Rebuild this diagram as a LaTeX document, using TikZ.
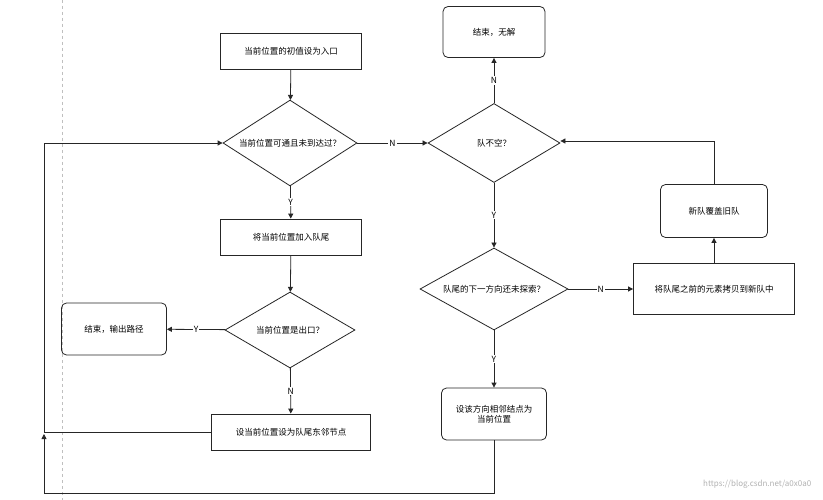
\documentclass[tikz,border=0pt]{standalone}
\usepackage{fontspec}
\setmainfont{Noto Sans CJK SC}
\usetikzlibrary{shapes.geometric,arrows.meta}
\begin{document}
\begin{tikzpicture}[x=1pt,y=-1pt,
 font=\fontsize{8.5}{10}\selectfont,
 line width=0.8pt, draw=black!85,
 box/.style={draw=black!85,minimum width=141pt,minimum height=36pt,inner sep=0pt},
 rbox/.style={draw=black!85,rounded corners=5pt,minimum width=104pt,minimum height=52pt,inner sep=0pt,align=center},
 dia/.style={draw=black!85,diamond,inner sep=0pt},
 arr/.style={-{Triangle[length=5pt,width=5pt]}},
 lab/.style={fill=white,inner sep=1pt}]
\useasboundingbox (0,0) rectangle (823,500);
\fill[white] (0,0) rectangle (823,500);
\draw[black!25,dashed,line width=0.6pt] (62,0) -- (62,500);
\node[box] (b1) at (291,51) {当前位置的初值设为入口};
\node[dia,minimum width=134pt,minimum height=79pt,inner sep=-6pt] (d1) at (290,143) {当前位置可通且未到达过？};
\node[box] (b2) at (291,237) {将当前位置加入队尾};
\node[dia,minimum width=130pt,minimum height=76pt] (d2) at (290,330) {当前位置是出口？};
\node[rbox,minimum width=105pt] (e1) at (114,329) {结束，输出路径};
\node[box,minimum width=159pt] (b3) at (291,432) {设当前位置设为队尾东邻节点};
\node[dia,minimum width=132pt,minimum height=79pt] (d3) at (494,143) {队不空？};
\node[rbox,minimum width=102pt,minimum height=51pt] (e2) at (494,32) {结束，无解};
\node[dia,minimum width=148pt,minimum height=82pt,inner sep=-13pt] (d4) at (494,289) {队尾的下一方向还未探索？};
\node[box,minimum width=161pt,minimum height=51pt] (b4) at (714,289) {将队尾之前的元素拷贝到新队中};
\node[rbox,minimum width=107pt,minimum height=53pt] (e3) at (714,211) {新队覆盖旧队};
\node[rbox,minimum width=105pt] (e4) at (494,414) {设该方向相邻结点为\\当前位置};
\node[text=black!30,font=\fontsize{8}{9}\selectfont,anchor=east] (wm) at (815,484) {https://blog.csdn.net/a0x0a0};
\coordinate (c1) at (44,432); \coordinate (c2) at (44,143);
\coordinate (c3) at (494,493); \coordinate (c4) at (44,493);
\coordinate (c5) at (714,141);

\draw[arr] (b1) -- (d1);
\draw[arr] (d1) -- node[lab]{Y} (b2);
\draw[arr] (b2) -- (d2);
\draw[arr] (d2) -- node[lab]{Y} (e1);
\draw[arr] (d2) -- node[lab]{N} (b3);
\draw[arr] (b3.west) -- (c1) -- (c2) -- (d1.west);
\draw[arr] (d1) -- node[lab]{N} (d3);
\draw[arr] (d3) -- node[lab]{N} (e2);
\draw[arr] (d3) -- node[lab]{Y} (d4);
\draw[arr] (d4) -- node[lab]{N} (b4);
\draw[arr] (b4) -- (e3);
\draw[arr] (e3.north) -- (c5) -- (d3.east |- c5);
\draw[arr] (d4) -- node[lab]{Y} (e4);
\draw[arr] (e4.south) -- (c3) -- (c4) -- ([yshift=-2pt]c1);
\end{tikzpicture}
\end{document}
